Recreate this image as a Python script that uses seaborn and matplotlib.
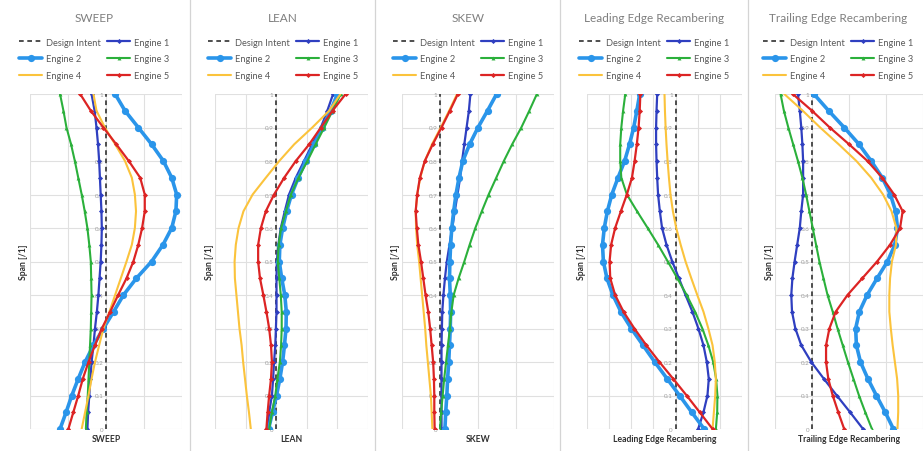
import matplotlib
matplotlib.use("Agg")
import matplotlib.pyplot as plt
from matplotlib.lines import Line2D
import seaborn as sns

sns.set_theme(style="white")
plt.rcParams["font.family"] = ["Lato", "DejaVu Sans"]

# Spanwise stations (root = 0, tip = 1)
span = [0.0, 0.05, 0.1, 0.15, 0.2, 0.25, 0.3, 0.35, 0.4, 0.45, 0.5,
        0.55, 0.6, 0.65, 0.7, 0.75, 0.8, 0.85, 0.9, 0.95, 1.0]
design_span = [0.0, 1.0]
design_intent = [0.0, 0.0]

# SWEEP
sweep_e1 = [-0.49, -0.47, -0.44, -0.41, -0.38, -0.33, -0.29, -0.24, -0.20, -0.17, -0.14,
            -0.12, -0.11, -0.12, -0.14, -0.16, -0.18, -0.21, -0.25, -0.30, -0.38]
sweep_e2 = [-1.21, -1.05, -0.90, -0.73, -0.55, -0.33, -0.07, 0.20, 0.46, 0.80, 1.20,
            1.50, 1.73, 1.84, 1.86, 1.73, 1.51, 1.20, 0.85, 0.50, 0.24]
sweep_e3 = [-0.53, -0.51, -0.48, -0.46, -0.44, -0.42, -0.40, -0.39, -0.38, -0.39, -0.40,
            -0.44, -0.49, -0.56, -0.64, -0.73, -0.82, -0.92, -1.04, -1.12, -1.21]
sweep_e4 = [-0.64, -0.55, -0.46, -0.38, -0.29, -0.18, -0.07, 0.09, 0.24, 0.39, 0.54,
            0.68, 0.76, 0.79, 0.76, 0.68, 0.50, 0.24, -0.03, -0.25, -0.33]
sweep_e5 = [-0.99, -0.86, -0.73, -0.61, -0.46, -0.29, -0.11, 0.11, 0.32, 0.54, 0.72,
            0.85, 0.95, 1.02, 1.02, 0.90, 0.60, 0.27, -0.07, -0.40, -0.68]

# LEAN
lean_e1 = [-0.28, -0.23, -0.14, -0.10, -0.07, -0.03, -0.01, 0.01, 0.01, 0.01, 0.02,
           0.07, 0.15, 0.28, 0.42, 0.64, 0.91, 1.18, 1.46, 1.67, 1.86]
lean_e2 = [-0.25, -0.12, 0.01, 0.12, 0.21, 0.27, 0.32, 0.33, 0.28, 0.18, 0.10,
           0.12, 0.21, 0.34, 0.50, 0.72, 0.97, 1.24, 1.51, 1.78, 2.00]
lean_e3 = [-0.23, -0.14, -0.03, 0.04, 0.12, 0.16, 0.18, 0.18, 0.15, 0.10, 0.05,
           0.08, 0.16, 0.32, 0.48, 0.73, 1.02, 1.29, 1.57, 1.84, 2.11]
lean_e4 = [-0.83, -0.89, -0.96, -1.02, -1.08, -1.13, -1.20, -1.25, -1.30, -1.35, -1.36,
           -1.32, -1.23, -1.07, -0.77, -0.34, 0.10, 0.59, 1.18, 1.73, 2.10]
lean_e5 = [-0.32, -0.28, -0.23, -0.17, -0.14, -0.17, -0.23, -0.32, -0.42, -0.53, -0.59,
           -0.59, -0.50, -0.34, -0.07, 0.26, 0.64, 1.08, 1.46, 1.84, 2.27]

# SKEW
skew_e1 = [0.04, 0.04, 0.04, 0.04, 0.04, 0.04, 0.05, 0.06, 0.09, 0.13, 0.18,
           0.25, 0.32, 0.39, 0.46, 0.53, 0.58, 0.64, 0.70, 0.76, 0.80]
skew_e2 = [0.13, 0.15, 0.18, 0.20, 0.23, 0.25, 0.27, 0.28, 0.27, 0.25, 0.26,
           0.28, 0.31, 0.36, 0.42, 0.50, 0.60, 0.78, 1.00, 1.25, 1.49]
skew_e3 = [0.00, 0.03, 0.07, 0.11, 0.16, 0.21, 0.26, 0.30, 0.36, 0.49, 0.64,
           0.78, 0.93, 1.10, 1.28, 1.48, 1.68, 1.90, 2.14, 2.35, 2.55]
skew_e4 = [-0.20, -0.22, -0.24, -0.28, -0.32, -0.36, -0.39, -0.43, -0.47, -0.51, -0.55,
           -0.60, -0.63, -0.64, -0.60, -0.52, -0.40, -0.21, 0.02, 0.24, 0.45]
skew_e5 = [-0.14, -0.15, -0.15, -0.16, -0.18, -0.22, -0.26, -0.31, -0.38, -0.44, -0.50,
           -0.57, -0.61, -0.64, -0.60, -0.53, -0.40, -0.19, 0.04, 0.26, 0.47]

# Leading Edge Recambering
le_e1 = [1.02, 1.26, 1.44, 1.50, 1.41, 1.26, 1.03, 0.76, 0.45, 0.15, -0.15,
         -0.41, -0.61, -0.71, -0.79, -0.83, -0.86, -0.88, -0.88, -0.86, -0.83]
le_e2 = [1.29, 0.73, 0.18, -0.38, -0.94, -1.47, -2.00, -2.47, -2.83, -3.10, -3.26,
         -3.30, -3.22, -3.08, -2.88, -2.60, -2.30, -2.08, -1.89, -1.75, -1.62]
le_e3 = [1.82, 1.88, 1.89, 1.83, 1.70, 1.48, 1.21, 0.88, 0.50, 0.08, -0.35,
         -0.79, -1.26, -1.74, -2.20, -2.45, -2.50, -2.50, -2.45, -2.37, -2.27]
le_e4 = [1.67, 1.73, 1.79, 1.82, 1.77, 1.67, 1.48, 1.26, 0.98, 0.71, 0.45,
         0.23, 0.03, -0.12, -0.23, -0.30, -0.36, -0.41, -0.45, -0.48, -0.50]
le_e5 = [1.67, 1.09, 0.50, -0.11, -0.73, -1.32, -1.86, -2.35, -2.73, -2.95, -2.98,
         -2.91, -2.73, -2.47, -2.20, -1.97, -1.85, -1.75, -1.67, -1.62, -1.59]

# Trailing Edge Recambering
te_e1 = [1.38, 1.03, 0.67, 0.32, -0.02, -0.29, -0.45, -0.54, -0.56, -0.53, -0.47,
         -0.40, -0.33, -0.29, -0.24, -0.24, -0.24, -0.26, -0.29, -0.33, -0.38]
te_e2 = [2.20, 1.98, 1.74, 1.51, 1.31, 1.20, 1.18, 1.28, 1.49, 1.76, 2.04,
         2.24, 2.31, 2.26, 2.12, 1.90, 1.60, 1.27, 0.87, 0.45, 0.05]
te_e3 = [1.62, 1.44, 1.27, 1.12, 0.97, 0.83, 0.69, 0.56, 0.42, 0.31, 0.20,
         0.11, 0.02, -0.07, -0.16, -0.26, -0.38, -0.51, -0.64, -0.76, -0.85]
te_e4 = [2.31, 2.33, 2.33, 2.30, 2.24, 2.18, 2.13, 2.09, 2.09, 2.11, 2.16,
         2.27, 2.28, 2.15, 1.92, 1.60, 1.20, 0.72, 0.22, -0.25, -0.75]
te_e5 = [0.87, 0.71, 0.56, 0.44, 0.38, 0.38, 0.47, 0.64, 0.96, 1.36, 1.76,
         2.11, 2.38, 2.45, 2.22, 1.90, 1.50, 1.00, 0.48, 0.00, -0.52]

titles = ["SWEEP", "LEAN", "SKEW", "Leading Edge Recambering", "Trailing Edge Recambering"]
x_labels = ["SWEEP", "LEAN", "SKEW", "Leading Edge Recambering", "Trailing Edge Recambering"]
y_label = "Span [/1]"
engine_names = ["Engine 1", "Engine 2", "Engine 3", "Engine 4", "Engine 5"]
span_ticks = [0.0, 0.1, 0.2, 0.3, 0.4, 0.5, 0.6, 0.7, 0.8, 0.9, 1.0]
span_tick_labels = ["0", "0.1", "0.2", "0.3", "0.4", "0.5", "0.6", "0.7", "0.8", "0.9", "1"]

panel_series = [
    [sweep_e1, sweep_e2, sweep_e3, sweep_e4, sweep_e5],
    [lean_e1, lean_e2, lean_e3, lean_e4, lean_e5],
    [skew_e1, skew_e2, skew_e3, skew_e4, skew_e5],
    [le_e1, le_e2, le_e3, le_e4, le_e5],
    [te_e1, te_e2, te_e3, te_e4, te_e5],
]
panel_xlim = [(-2, 2), (-2, 3), (-1, 3), (-4, 3), (-1, 3)]

# Figure layout in pixels
W, H = 924, 452
plot_left = [30, 215, 402, 587, 775]
plot_right = [182, 368, 554, 742, 923]
plot_top, plot_bottom = 95, 430
region_center = [94, 283, 468, 654, 838]
separators = [190, 375, 560, 748]

engine_styles = [
    dict(color="#2f3fc0", marker="D", markersize=2.6, linewidth=1.6),
    dict(color="#2a95ea", marker="o", markersize=5.2, linewidth=2.6),
    dict(color="#2bb03b", marker="^", markersize=2.8, linewidth=1.5),
    dict(color="#fbc33c", marker=None, markersize=0, linewidth=1.5),
    dict(color="#dc2424", marker="D", markersize=2.6, linewidth=1.6),
]
design_style = dict(color="#404040", linewidth=1.3, linestyle=(0, (2.6, 2.0)))

fig = plt.figure(figsize=(W / 100, H / 100), dpi=100)
fig.patch.set_facecolor("white")

for i in range(5):
    ax = fig.add_axes([plot_left[i] / W, (H - plot_bottom) / H,
                       (plot_right[i] - plot_left[i]) / W, (plot_bottom - plot_top) / H])
    lo, hi = panel_xlim[i]

    sns.lineplot(x=design_intent, y=design_span, ax=ax, orient="y", sort=False,
                 estimator=None, label="Design Intent", **design_style)
    for name, vals, st in zip(engine_names, panel_series[i], engine_styles):
        kw = dict(st)
        if kw["marker"] is None:
            kw.pop("marker")
            kw.pop("markersize")
        else:
            kw["markeredgewidth"] = 0
        sns.lineplot(x=vals, y=span, ax=ax, orient="y", sort=False,
                     estimator=None, label=name, **kw)

    ax.set_xlim(lo, hi)
    ax.set_ylim(0, 1)
    ax.set_xticks(list(range(lo, hi + 1)))
    ax.set_xticklabels([])
    ax.set_yticks(span_ticks)
    ax.set_yticklabels(span_tick_labels)
    ax.grid(True, color="#e0e0e0", linewidth=0.8)
    ax.set_axisbelow(True)
    for s in ax.spines.values():
        s.set_visible(False)
    ax.spines["left"].set_position(("data", 0))
    ax.tick_params(axis="y", length=0, pad=2, labelsize=4.5, labelcolor="#a0a0a0")
    ax.tick_params(axis="x", length=0)
    ax.set_xlabel("")
    ax.set_ylabel("")

    handles, labels = ax.get_legend_handles_labels()
    ax.get_legend().remove()
    order = [0, 2, 4, 1, 3, 5]
    fig.legend([handles[k] for k in order], [labels[k] for k in order],
               loc="center", bbox_to_anchor=(region_center[i] / W, 1 - 60 / H),
               ncol=2, frameon=False, fontsize=6.7, labelcolor="#595959",
               handlelength=2.5, handletextpad=0.35, columnspacing=0.7,
               labelspacing=0.85, borderpad=0.0)

    fig.text(region_center[i] / W, 1 - 18 / H, titles[i], ha="center", va="center",
             fontsize=8.5, color="#7f7f7f")
    fig.text((plot_left[i] + plot_right[i]) / 2 / W, 1 - 440 / H, x_labels[i],
             ha="center", va="center", fontsize=6.2, fontweight="bold", color="#303030")
    fig.text((plot_left[i] - 6) / W, 1 - ((plot_top + plot_bottom) / 2) / H, y_label,
             ha="center", va="center", rotation=90, fontsize=6.2, fontweight="bold",
             color="#303030")

for xs in separators:
    fig.add_artist(Line2D([xs / W, xs / W], [0, 1], color="#d4d4d4", linewidth=0.9))

fig.savefig("out.png", dpi=100, facecolor="white")
